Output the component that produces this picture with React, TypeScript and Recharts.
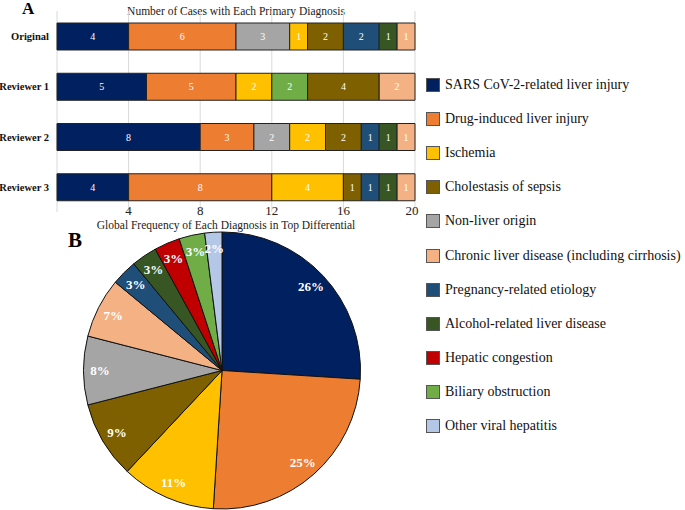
import React from 'react';
import { BarChart, Bar, XAxis, YAxis, CartesianGrid, LabelList, PieChart, Pie, Cell } from 'recharts';

const SERIF = '"Liberation Serif", "Times New Roman", serif';

// Panel A: stacked primary diagnoses
const rows = ['Original', 'Reviewer 1', 'Reviewer 2', 'Reviewer 3'];
const sarsCounts = [4, 5, 8, 4];
const drugCounts = [6, 5, 3, 8];
const nonLiverCounts = [3, null, 2, null];
const ischemiaCounts = [1, 2, 2, 4];
const biliaryCounts = [null, 2, null, null];
const cholestasisCounts = [2, 4, 2, 1];
const pregnancyCounts = [2, null, 1, 1];
const alcoholCounts = [1, null, 1, 1];
const chronicCounts = [1, 2, 1, 1];
const xTicks = [0, 4, 8, 12, 16, 20];

// Panel B: global frequency (%)
const diagnoses = [
  'SARS CoV-2-related liver injury',
  'Drug-induced liver injury',
  'Ischemia',
  'Cholestasis of sepsis',
  'Non-liver origin',
  'Chronic liver disease (including cirrhosis)',
  'Pregnancy-related etiology',
  'Alcohol-related liver disease',
  'Hepatic congestion',
  'Biliary obstruction',
  'Other viral hepatitis',
];
const globalPct = [26, 25, 11, 9, 8, 7, 3, 3, 3, 3, 2];
const colors = [
  '#002060', '#ED7D31', '#FFC000', '#7F6000', '#A5A5A5', '#F4B183',
  '#1F4E79', '#375623', '#C00000', '#70AD47', '#B4C7E7',
];

const stackSeries = [
  { key: 'sars', idx: 0, vals: sarsCounts },
  { key: 'drug', idx: 1, vals: drugCounts },
  { key: 'nonLiver', idx: 4, vals: nonLiverCounts },
  { key: 'ischemia', idx: 2, vals: ischemiaCounts },
  { key: 'biliary', idx: 9, vals: biliaryCounts },
  { key: 'cholestasis', idx: 3, vals: cholestasisCounts },
  { key: 'pregnancy', idx: 6, vals: pregnancyCounts },
  { key: 'alcohol', idx: 7, vals: alcoholCounts },
  { key: 'chronic', idx: 5, vals: chronicCounts },
];

const barData = rows.map((name, i) => {
  const row: any = { name };
  stackSeries.forEach((s) => (row[s.key] = s.vals[i]));
  return row;
});

const pieData = diagnoses.map((name, i) => ({ name, value: globalPct[i] }));

const RADIAN = Math.PI / 180;

function XTick(props: any) {
  const { x, y, payload } = props;
  if (payload.value === 0) return null;
  return (
    <text x={x} y={y - 5} textAnchor="middle" style={{ fontFamily: SERIF, fontSize: 13 }} fill="#222">
      {payload.value}
    </text>
  );
}

function YTick(props: any) {
  const { x, y, payload } = props;
  return (
    <text x={x} y={y} dy={4} textAnchor="end" style={{ fontFamily: SERIF, fontSize: 10.5, fontWeight: 'bold' }} fill="#111">
      {payload.value}
    </text>
  );
}

function BarValue(props: any) {
  const { x, y, width, height, value } = props;
  if (value == null) return null;
  return (
    <text x={x + width / 2} y={y + height / 2} dy={3.5} textAnchor="middle" style={{ fontFamily: SERIF, fontSize: 10 }} fill="#fff">
      {value}
    </text>
  );
}

function PieValue(props: any) {
  const { cx, cy, midAngle, value } = props;
  const r = 122;
  const x = cx + r * Math.cos(-midAngle * RADIAN);
  const y = cy + r * Math.sin(-midAngle * RADIAN);
  return (
    <text x={x} y={y} dy={4.5} textAnchor="middle" style={{ fontFamily: SERIF, fontSize: 13, fontWeight: 'bold' }} fill="#fff">
      {value}%
    </text>
  );
}

export default function App() {
  return (
    <div style={{ position: 'absolute', left: 0, top: 0, width: 685, height: 510, background: '#fff', fontFamily: SERIF }}>
      <div style={{ position: 'absolute', left: 22, top: 0, fontSize: 17, fontWeight: 'bold', lineHeight: '17px' }}>A</div>
      <div style={{ position: 'absolute', left: 57, width: 358, top: 5, textAlign: 'center', fontSize: 11.5, color: '#222' }}>
        Number of Cases with Each Primary Diagnosis
      </div>
      <div style={{ position: 'absolute', left: 0, top: 0 }}>
        <BarChart
          width={420}
          height={230}
          data={barData}
          layout="vertical"
          margin={{ top: 11, right: 5, bottom: 9, left: 0 }}
          barSize={27}
        >
          <CartesianGrid horizontal={false} stroke="#d9d9d9" />
          <XAxis
            type="number"
            domain={[0, 20]}
            ticks={xTicks}
            axisLine={false}
            tickLine={false}
            tick={<XTick />}
            height={9}
          />
          <YAxis type="category" dataKey="name" width={57} axisLine={false} tickLine={false} tick={<YTick />} />
          {stackSeries.map((s) => (
            <Bar key={s.key} dataKey={s.key} stackId="a" fill={colors[s.idx]} stroke="#222" strokeWidth={1} isAnimationActive={false}>
              <LabelList dataKey={s.key} content={<BarValue />} />
            </Bar>
          ))}
        </BarChart>
      </div>

      <div style={{ position: 'absolute', left: 68, top: 228, fontSize: 21, fontWeight: 'bold' }}>B</div>
      <div style={{ position: 'absolute', left: 57, width: 338, top: 219, textAlign: 'center', fontSize: 11.5, color: '#222' }}>
        Global Frequency of Each Diagnosis in Top Differential
      </div>
      <div style={{ position: 'absolute', left: 0, top: 230 }}>
        <PieChart width={420} height={280} margin={{ top: 0, right: 0, bottom: 0, left: 0 }}>
          <Pie
            data={pieData}
            dataKey="value"
            nameKey="name"
            cx={222}
            cy={140.5}
            outerRadius={138.5}
            startAngle={90}
            endAngle={-270}
            stroke="#111"
            strokeWidth={1}
            label={<PieValue />}
            labelLine={false}
            isAnimationActive={false}
          >
            {pieData.map((d, i) => (
              <Cell key={d.name} fill={colors[i]} />
            ))}
          </Pie>
        </PieChart>
      </div>

      <div style={{ position: 'absolute', left: 426, top: 68 }}>
        {diagnoses.map((name, i) => (
          <div key={name} style={{ display: 'flex', alignItems: 'center', height: 34.1 }}>
            <div
              style={{
                width: 12,
                height: 12,
                background: colors[i],
                border: '1.5px solid #555',
                marginRight: 5,
                flexShrink: 0,
              }}
            />
            <span style={{ fontSize: 14, color: '#111', whiteSpace: 'nowrap' }}>{name}</span>
          </div>
        ))}
      </div>
    </div>
  );
}
